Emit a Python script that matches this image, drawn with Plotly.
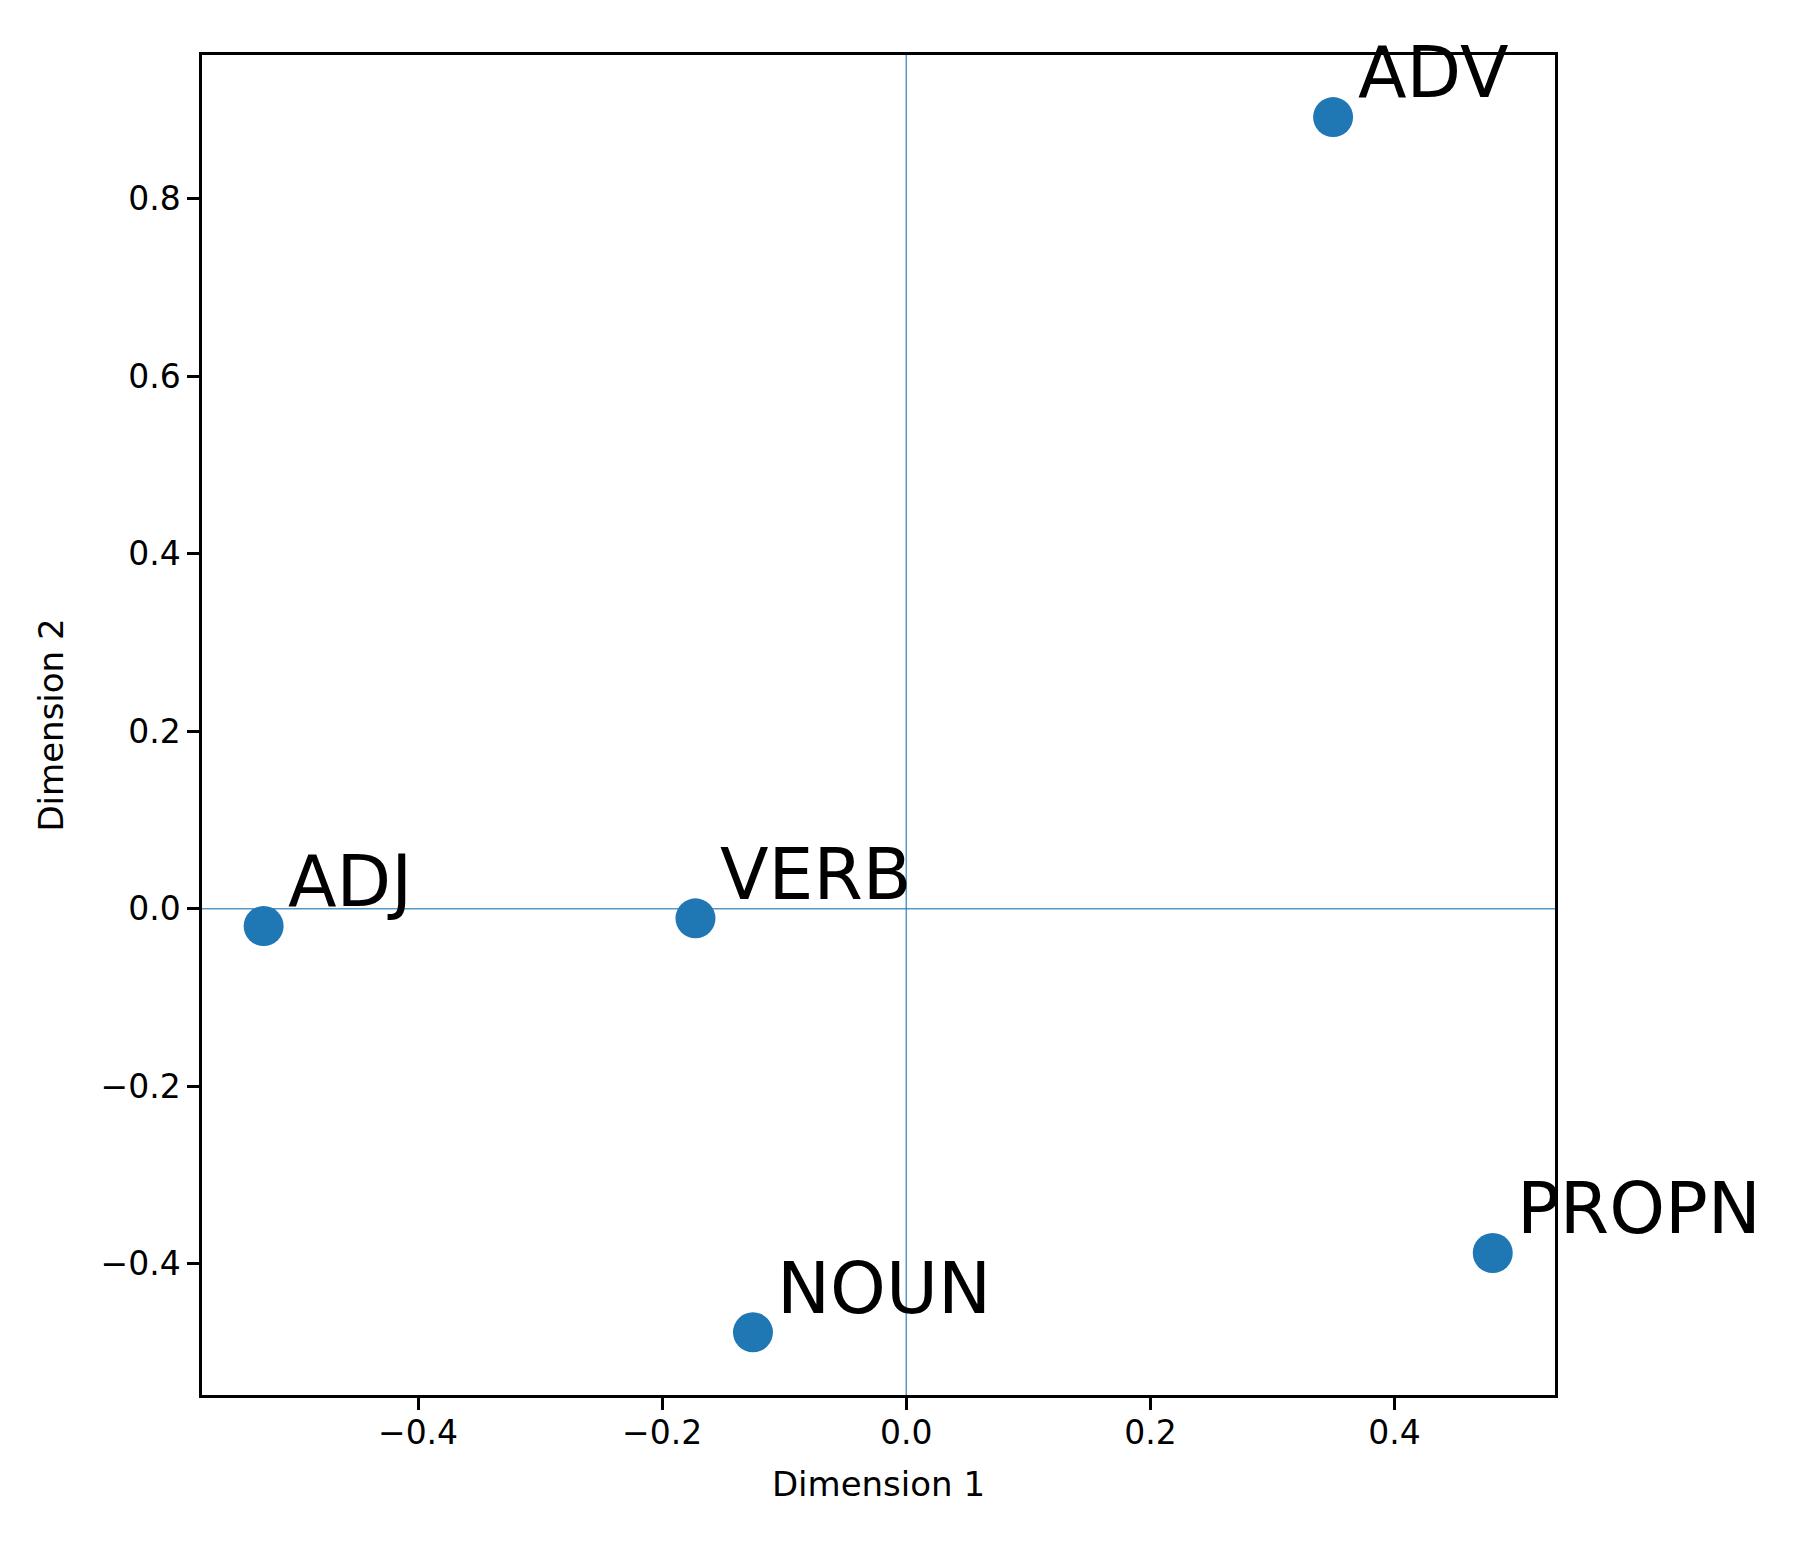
import plotly.graph_objects as go

# part-of-speech coordinates
labels = ["ADJ", "ADV", "NOUN", "PROPN", "VERB"]
dim1 = [-0.5265, 0.3497, -0.1256, 0.4805, -0.1727]
dim2 = [-0.0196, 0.892, -0.4774, -0.388, -0.0109]

x_ticks = [-0.4, -0.2, 0.0, 0.2, 0.4]
y_ticks = [-0.4, -0.2, 0.0, 0.2, 0.4, 0.6, 0.8]

font = "DejaVu Sans"
blue = "#1f77b4"

fig = go.Figure()
fig.add_trace(go.Scatter(
    x=dim1, y=dim2, mode="markers",
    marker=dict(size=40, color=blue, line=dict(width=0)),
    showlegend=False, hoverinfo="skip",
))

# labels offset by 0.02 in data units, like plt.text(x + 0.02, y + 0.02)
for lab, xv, yv in zip(labels, dim1, dim2):
    fig.add_annotation(
        x=xv + 0.02, y=yv + 0.02, text=lab, showarrow=False,
        xanchor="left", yanchor="bottom", yshift=-17, xshift=-2,
        font=dict(family=font, size=71, color="black"),
    )

fig.add_hline(y=0, line=dict(color=blue, width=1.5), opacity=0.75)
fig.add_vline(x=0, line=dict(color=blue, width=1.5), opacity=0.75)

axis_style = dict(
    showline=True, linecolor="black", linewidth=2.5, mirror=True,
    ticks="outside", ticklen=12, tickwidth=2.5, tickcolor="black",
    showgrid=False, zeroline=False, tickformat=".1f",
    tickfont=dict(family=font, size=33, color="black"),
)

fig.update_xaxes(
    range=[-0.577, 0.5315], tickvals=x_ticks, ticklabelstandoff=-5,
    title=dict(text="Dimension 1", font=dict(family=font, size=34, color="black"), standoff=21),
    **axis_style,
)
fig.update_yaxes(
    range=[-0.548, 0.962], tickvals=y_ticks,
    title=dict(text="Dimension 2", font=dict(family=font, size=34, color="black"), standoff=27),
    **axis_style,
)

# page body keeps its default 8px margin, so the figure is 16px smaller
fig.update_layout(
    width=1784, height=1527,
    margin=dict(l=194, r=237, t=47, b=140, autoexpand=False),
    plot_bgcolor="white", paper_bgcolor="white",
    font=dict(family=font),
)

fig.write_html("out.html")
